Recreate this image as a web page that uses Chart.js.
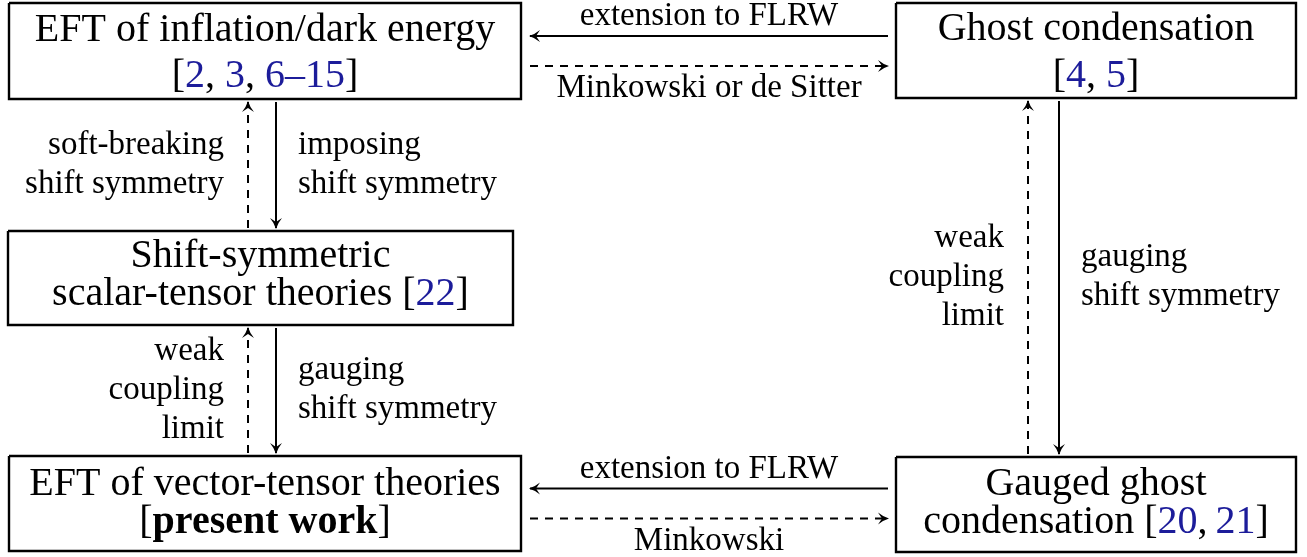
<!DOCTYPE html>
<html>
<head>
<meta charset="utf-8">
<script src="https://cdn.jsdelivr.net/npm/chart.js@4.4.1/dist/chart.umd.min.js"></script>
<style>
  html, body { margin: 0; padding: 0; background: #fff; }
  #wrap { width: 1307px; height: 557px; position: relative; }
</style>
</head>
<body>
<div id="wrap"><canvas id="diagram"></canvas></div>
<script>
// node titles: {..} = citation (blue), *..* = bold
var nodeLines = [
  ["EFT of inflation/dark energy", "[{2}, {3}, {6\u201315}]"],
  ["Ghost condensation", "[{4}, {5}]"],
  ["Shift-symmetric", "scalar-tensor theories [{22}]"],
  ["EFT of vector-tensor theories", "[*present work*]"],
  ["Gauged ghost", "condensation [{20},\u2009{21}]"]
];

// edges between nodes
var edgeFrom   = [1, 0, 0, 2, 2, 3, 1, 4, 4, 3];
var edgeTo     = [0, 1, 2, 0, 3, 2, 4, 1, 3, 4];
var edgeDashed = [false, true, false, true, false, true, false, true, false, true];
var edgeLabels = [
  ["extension to FLRW"],
  ["Minkowski or de Sitter"],
  ["imposing", "shift symmetry"],
  ["soft-breaking", "shift symmetry"],
  ["gauging", "shift symmetry"],
  ["weak", "coupling", "limit"],
  ["gauging", "shift symmetry"],
  ["weak", "coupling", "limit"],
  ["extension to FLRW"],
  ["Minkowski"]
];

// layout (pixels of the 1307x557 canvas)
var boxes = [
  { x1: 9,   y1: 3,   x2: 521,  y2: 99,  lines: [41, 87] },
  { x1: 896, y1: 3,   x2: 1296, y2: 98,  lines: [40, 87] },
  { x1: 8,   y1: 231, x2: 513,  y2: 325, lines: [267, 305] },
  { x1: 9,   y1: 456, x2: 521,  y2: 551, lines: [495, 533] },
  { x1: 896, y1: 457, x2: 1296, y2: 552, lines: [495, 533] }
];
var laneLeft  = { solid: 276,  dashed: 248 };
var laneRight = { solid: 1059, dashed: 1028 };
var GAP = 3;
var BOX_FONT = 40, LABEL_FONT = 33, LABEL_LEAD = 39;
var FONT = '"Liberation Serif", "Times New Roman", serif';
var CITE = "#1c1c9a";

function parseRich(str) {
  var segs = [], cur = "", blue = false, bold = false;
  function push() { if (cur) segs.push({ t: cur, blue: blue, bold: bold }); cur = ""; }
  for (var i = 0; i < str.length; i++) {
    var c = str[i];
    if (c === "{") { push(); blue = true; }
    else if (c === "}") { push(); blue = false; }
    else if (c === "*") { push(); bold = !bold; }
    else cur += c;
  }
  push();
  return segs;
}

// geometry of each edge from the boxes
function edgeGeom(i) {
  var a = boxes[edgeFrom[i]], b = boxes[edgeTo[i]];
  var dashed = edgeDashed[i];
  if (a.y2 < b.y1 || b.y2 < a.y1) {
    // vertical
    var lane = a.x1 < 600 ? laneLeft : laneRight;
    var x = dashed ? lane.dashed : lane.solid;
    var y1 = a.y2 < b.y1 ? a.y2 + GAP : a.y1 - GAP;
    var y2 = a.y2 < b.y1 ? b.y1 - GAP : b.y2 + GAP;
    return { x1: x, y1: y1, x2: x, y2: y2, vertical: true };
  }
  var left = a.x1 < b.x1 ? a : b;
  var cy = (left.y1 + left.y2) / 2;
  var y = dashed ? cy + 15 : cy - 15;
  var x1 = a.x1 < b.x1 ? a.x2 + GAP + 6 : a.x1 - GAP - 5;
  var x2 = a.x1 < b.x1 ? b.x1 - GAP - 5 : b.x2 + GAP + 6;
  return { x1: x1, y1: y, x2: x2, y2: y, vertical: false };
}

var datasets = [];
boxes.forEach(function (b) {
  datasets.push({
    data: [{x: b.x1, y: b.y1}, {x: b.x2, y: b.y1}, {x: b.x2, y: b.y2}, {x: b.x1, y: b.y2}, {x: b.x1, y: b.y1}],
    showLine: true, borderColor: "#000", borderWidth: 2.4, pointRadius: 0, fill: false, clip: false,
    borderJoinStyle: "miter"
  });
});
edgeFrom.forEach(function (f, i) {
  var g = edgeGeom(i);
  datasets.push({
    data: [{x: g.x1, y: g.y1}, {x: g.x2, y: g.y2}],
    showLine: true, borderColor: "#000", borderWidth: 2,
    borderDash: edgeDashed[i] ? [8, 7] : [], pointRadius: 0, fill: false, clip: false
  });
});

var decor = {
  id: "decor",
  afterDatasetsDraw: function (chart) {
    var ctx = chart.ctx;
    var sx = chart.scales.x, sy = chart.scales.y;
    ctx.save();
    ctx.textBaseline = "alphabetic";

    // arrow heads
    edgeFrom.forEach(function (f, i) {
      var g = edgeGeom(i);
      var tx = sx.getPixelForValue(g.x2), ty = sy.getPixelForValue(g.y2);
      var fx = sx.getPixelForValue(g.x1), fy = sy.getPixelForValue(g.y1);
      var len = Math.hypot(tx - fx, ty - fy);
      var dx = (tx - fx) / len, dy = (ty - fy) / len;
      var px = -dy, py = dx;
      ctx.fillStyle = "#000";
      ctx.beginPath();
      ctx.moveTo(tx + 1 * dx, ty + 1 * dy);
      ctx.quadraticCurveTo(tx - 5 * dx + 1.8 * px, ty - 5 * dy + 1.8 * py, tx - 10 * dx + 6 * px, ty - 10 * dy + 6 * py);
      ctx.lineTo(tx - 6 * dx, ty - 6 * dy);
      ctx.lineTo(tx - 10 * dx - 6 * px, ty - 10 * dy - 6 * py);
      ctx.quadraticCurveTo(tx - 5 * dx - 1.8 * px, ty - 5 * dy - 1.8 * py, tx + 1 * dx, ty + 1 * dy);
      ctx.closePath();
      ctx.fill();
    });

    // node texts
    boxes.forEach(function (b, i) {
      var cx = sx.getPixelForValue((b.x1 + b.x2) / 2);
      nodeLines[i].forEach(function (line, k) {
        var base = sy.getPixelForValue(b.lines[k]);
        var segs = parseRich(line);
        var w = 0;
        segs.forEach(function (s) {
          ctx.font = (s.bold ? "bold " : "") + BOX_FONT + "px " + FONT;
          s.w = ctx.measureText(s.t).width;
          w += s.w;
        });
        var x = cx - w / 2;
        ctx.textAlign = "left";
        segs.forEach(function (s) {
          ctx.font = (s.bold ? "bold " : "") + BOX_FONT + "px " + FONT;
          ctx.fillStyle = s.blue ? CITE : "#000";
          ctx.fillText(s.t, x, base);
          x += s.w;
        });
      });
    });

    // edge labels
    ctx.font = LABEL_FONT + "px " + FONT;
    ctx.fillStyle = "#000";
    edgeFrom.forEach(function (f, i) {
      var g = edgeGeom(i);
      var lines = edgeLabels[i];
      if (g.vertical) {
        var mid = (g.y1 + g.y2) / 2;
        var lx = edgeDashed[i] ? g.x1 - 24 : g.x1 + 22;
        ctx.textAlign = edgeDashed[i] ? "right" : "left";
        lines.forEach(function (t, k) {
          var y = mid + (k - (lines.length - 1) / 2) * LABEL_LEAD + 8;
          ctx.fillText(t, sx.getPixelForValue(lx), sy.getPixelForValue(y));
        });
      } else {
        var cx = (g.x1 + g.x2) / 2;
        var y = edgeDashed[i] ? g.y1 + 31 : g.y1 - 11;
        ctx.textAlign = "center";
        ctx.fillText(lines[0], sx.getPixelForValue(cx), sy.getPixelForValue(y));
      }
    });
    ctx.restore();
  }
};

var diagram = new Chart(document.querySelector("#diagram"), {
  type: "scatter",
  data: { datasets: datasets },
  options: {
    responsive: true,
    maintainAspectRatio: false,
    animation: false,
    layout: { padding: 0 },
    plugins: { legend: { display: false }, tooltip: { enabled: false } },
    scales: {
      x: { type: "linear", min: 0, max: 1307, display: false },
      y: { type: "linear", min: 0, max: 557, reverse: true, display: false }
    }
  },
  plugins: [decor]
});
</script>
</body>
</html>
